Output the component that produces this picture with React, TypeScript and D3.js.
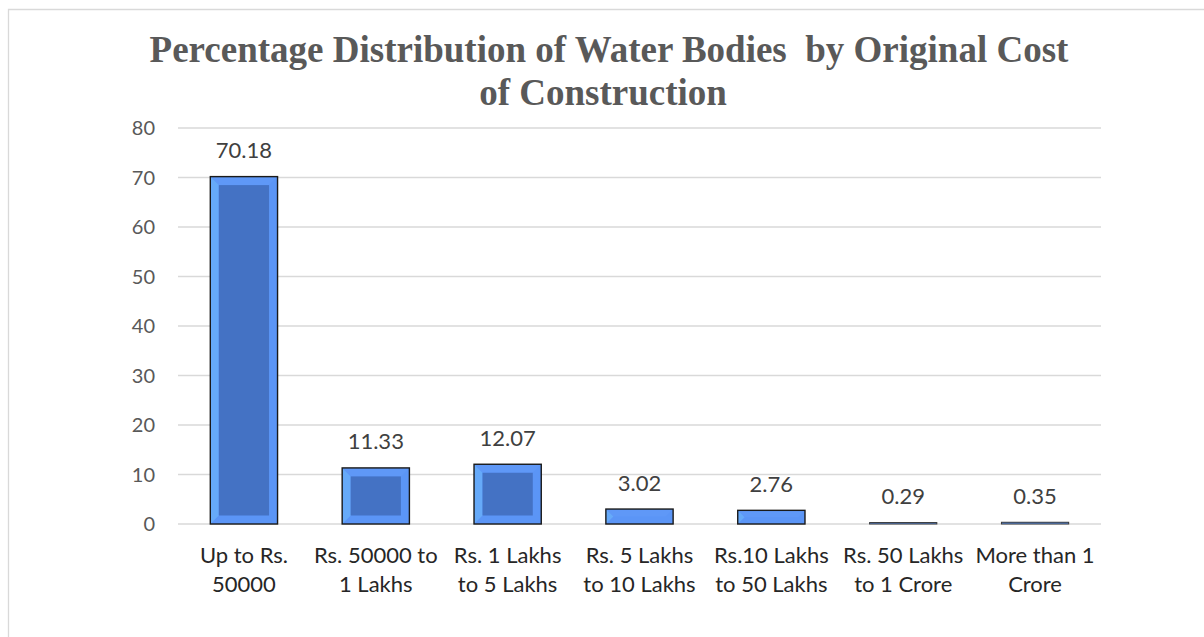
import React from "react";
import * as d3 from "d3";

const categoriesLine1 = ["Up to Rs.", "Rs. 50000 to", "Rs. 1 Lakhs", "Rs. 5 Lakhs", "Rs.10 Lakhs", "Rs. 50 Lakhs", "More than 1"];
const categoriesLine2 = ["50000", "1 Lakhs", "to 5 Lakhs", "to 10 Lakhs", "to 50 Lakhs", "to 1 Crore", "Crore"];
const values = [70.18, 11.33, 12.07, 3.02, 2.76, 0.29, 0.35];
const valueLabels = ["70.18", "11.33", "12.07", "3.02", "2.76", "0.29", "0.35"];
const yTicks = [0, 10, 20, 30, 40, 50, 60, 70, 80];
const titleLines = ["Percentage Distribution of Water Bodies\u00a0 by Original Cost", "of Construction"];

const W = 1204;
const H = 637;

export default function App() {
  const cats = categoriesLine1.map((c, i) => c + " " + categoriesLine2[i]);
  const x = d3.scaleBand<string>().domain(cats).range([178, 1101]).paddingInner(0.49).paddingOuter(0.245);
  const y = d3.scaleLinear().domain([0, 80]).range([524, 128]);
  const labelFont = "Lato, 'Open Sans', sans-serif";
  const titleFont = "'Liberation Serif', serif";

  return (
    <svg width={W} height={H} style={{ position: "absolute", left: 0, top: 0, background: "#fff" }}>
      <rect x={0} y={0} width={W} height={H} fill="#fff" />
      {/* chart border */}
      <path d={`M8.5,${H} V9.5 H${W}`} fill="none" stroke="#d9d9d9" strokeWidth={1.3} />
      {/* title */}
      <text x={609} y={62} textAnchor="middle" fontFamily={titleFont} fontWeight="bold" fontSize={37} fill="#595959">
        {titleLines[0]}
      </text>
      <text x={603} y={105} textAnchor="middle" fontFamily={titleFont} fontWeight="bold" fontSize={37} fill="#595959">
        {titleLines[1]}
      </text>
      {/* gridlines */}
      {yTicks.map((t) => (
        <line key={t} x1={178} x2={1101} y1={y(t)} y2={y(t)} stroke="#d9d9d9" strokeWidth={1.3} />
      ))}
      {/* y tick labels */}
      {yTicks.map((t) => (
        <text key={"l" + t} x={155} y={y(t) + 7} textAnchor="end" fontFamily={labelFont} fontSize={20} fill="#595959">
          {t}
        </text>
      ))}
      {/* bars */}
      {values.map((v, i) => {
        const bx = x(cats[i])!;
        const bw = x.bandwidth();
        const top = y(v);
        const bot = y(0);
        const bh = bot - top;
        const b = Math.min(8.5, bh / 2, bw / 2);
        const tiny = bh < 4;
        return (
          <g key={"b" + i}>
            <rect x={bx} y={top} width={bw} height={bh} fill="#5b95f6" />
            <polygon points={`${bx},${top} ${bx + bw},${top} ${bx + bw - b},${top + b} ${bx + b},${top + b}`} fill="#5f98f7" />
            <polygon points={`${bx},${top} ${bx + b},${top + b} ${bx + b},${bot - b} ${bx},${bot}`} fill="#66aaf9" />
            <rect x={bx + b} y={top + b} width={bw - 2 * b} height={Math.max(0, bh - 2 * b)} fill="#4472c4" />
            <rect x={bx} y={top} width={bw} height={bh} fill="none" stroke={tiny ? "#3a3a3a" : "#1a1a1a"} strokeWidth={tiny ? 1 : 1.4} />
          </g>
        );
      })}
      {/* data labels */}
      {values.map((v, i) => (
        <text key={"d" + i} x={x(cats[i])! + x.bandwidth() / 2} y={y(v) - 18.5} textAnchor="middle" fontFamily={labelFont} fontSize={22} fill="#404040">
          {valueLabels[i]}
        </text>
      ))}
      {/* category labels */}
      {cats.map((c, i) => (
        <text key={"c" + i} x={x(c)! + x.bandwidth() / 2} textAnchor="middle" fontFamily={labelFont} fontSize={22} fill="#262626">
          <tspan x={x(c)! + x.bandwidth() / 2} y={563}>{categoriesLine1[i]}</tspan>
          <tspan x={x(c)! + x.bandwidth() / 2} y={591.5}>{categoriesLine2[i]}</tspan>
        </text>
      ))}
    </svg>
  );
}
